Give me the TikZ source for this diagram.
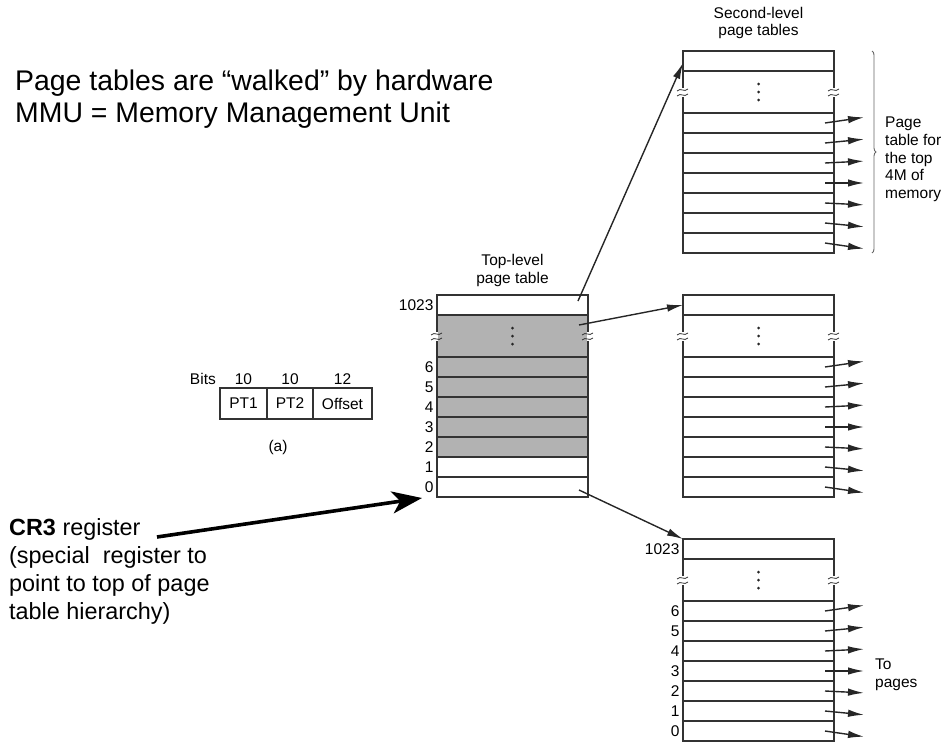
\documentclass[tikz,border=0pt]{standalone}
\usepackage{fontspec}
\setmainfont{Liberation Sans}
\usetikzlibrary{positioning,arrows.meta,decorations.pathreplacing}

\newcommand{\smallsize}{\fontsize{15.5}{17.6}\selectfont}

\tikzset{
  entry/.style={draw=black!80, line width=1.2pt, minimum width=151pt,
    minimum height=20pt, inner sep=0pt, outer sep=0pt},
  gapentry/.style={entry, minimum height=42pt},
  shaded/.style={fill=black!30},
  num/.style={font=\smallsize},
  field/.style={draw=black!80, line width=1.1pt, minimum height=31pt,
    inner sep=0pt, outer sep=0pt, font=\smallsize},
  ptr/.style={-{Latex[length=16pt,width=7.5pt]}, line width=1.4pt, black!85},
  bigptr/.style={-{Stealth[length=30pt,width=22pt,inset=8pt]}, line width=3.6pt},
  brk/.pic={
    \fill[white] (-1.3,-4.5) rectangle (1.3,4.5);
    \draw[line width=0.8pt, black!80] (-6,-1) .. controls (-2,-5) and (1,1) .. (5,-3);
    \draw[line width=0.8pt, black!80] (-6,4) .. controls (-2,0) and (1,6) .. (5,2);
  },
}

\begin{document}
\begin{tikzpicture}[x=1pt,y=-1pt]
\useasboundingbox (0,0) rectangle (951,753);

% the text on the left
\node[anchor=north west, inner sep=0pt, align=left,
  font=\fontsize{28.4}{32}\selectfont] (title) at (15,70)
  {Page tables are “walked” by hardware\\MMU = Memory Management Unit};
\node[anchor=north west, inner sep=0pt, align=left,
  font=\fontsize{23.4}{28}\selectfont] (cr3) at (9,518)
  {\textbf{CR3} register\\(special~ register to\\point to top of page\\table hierarchy)};

% the address fields
\node[field, minimum width=47pt, anchor=north west,
  label={[num, name=pt1bits]above:10}] (pt1) at (220,388) {PT1};
\node[field, minimum width=46pt, right=0pt of pt1,
  label={[num]above:10}] (pt2) {PT2};
\node[field, minimum width=59pt, right=0pt of pt2,
  label={[num]above:12}] (off) {Offset};
\node[num, anchor=base east] (bits) at ([xshift=-12pt]pt1bits.base west) {Bits};
\node[num] (caption) at (278,447) {(a)};

% the top-level table
\node[entry, anchor=north west, label={[num]left:1023}] (tl-1023) at (437,295) {};
\node[gapentry, shaded, below=0pt of tl-1023] (tl-gap) {};
\foreach \i/\p in {6/gap,5/6,4/5,3/4,2/3}
  \node[entry, shaded, below=0pt of tl-\p, label={[num]left:\i}] (tl-\i) {};
\foreach \i/\p in {1/2,0/1}
  \node[entry, below=0pt of tl-\p, label={[num]left:\i}] (tl-\i) {};
\node[num, align=center, above=5pt of tl-1023] (tl-title) {Top-level\\page table};

% the second-level tables
\foreach \t/\ty in {sa/51,sb/295,sc/539} {
  \node[entry, anchor=north west] (\t-1023) at (683,\ty) {};
  \node[gapentry, below=0pt of \t-1023] (\t-gap) {};
  \foreach \i/\p in {6/gap,5/6,4/5,3/4,2/3,1/2,0/1}
    \node[entry, below=0pt of \t-\p] (\t-\i) {};
}
\node[num, left=0pt of sc-1023] (sc-1023-lbl) {1023};
\foreach \i in {6,5,...,0}
  \node[num, left=0pt of sc-\i] (sc-\i-lbl) {\i};
\node[num, align=center, above=8.5pt of sa-1023] (sa-title) {Second-level\\page tables};

% dots and break marks
\foreach \t in {tl,sa,sb,sc} {
  \foreach \d in {-8,0,8}
    \fill[black!85] ([yshift=\d pt]\t-gap.center) circle (1.5pt);
  \pic at (\t-gap.west) {brk};
  \pic at (\t-gap.east) {brk};
}

% the arrows
\foreach \t in {sa,sb,sc}
  \foreach \i [count=\k] in {6,5,...,0}
    \draw[ptr] ([xshift=-9pt]\t-\i.east) -- ++(39,{(\k-4)*1.9});
\draw[ptr] ([xshift=-10pt,yshift=4pt]tl-1023.east) -- ([yshift=-2pt]sa-1023.west);
\draw[ptr] ([xshift=-9pt,yshift=11pt]tl-gap.east) -- (sb-1023.west);
\draw[ptr] ([xshift=-9pt,yshift=-3pt]tl-0.east) -- (sc-1023.north west);
\coordinate (cr3-tail) at (157,537);
\draw[bigptr] (cr3-tail) -- ([xshift=-15pt,yshift=-11pt]tl-0.west);

% the brace and labels on the right
\draw[decorate, decoration={brace, amplitude=4pt}, black!60, line width=0.9pt]
  ([xshift=38pt]sa-1023.north east) -- ([xshift=38pt]sa-0.south east);
\node[num, anchor=north west, inner sep=0pt, align=left] (topmem) at (885,117)
  {Page\\table for\\the top\\4M of\\memory};
\node[num, anchor=north west, inner sep=0pt, align=left] (topages) at (875,659)
  {To\\pages};
\end{tikzpicture}
\end{document}
